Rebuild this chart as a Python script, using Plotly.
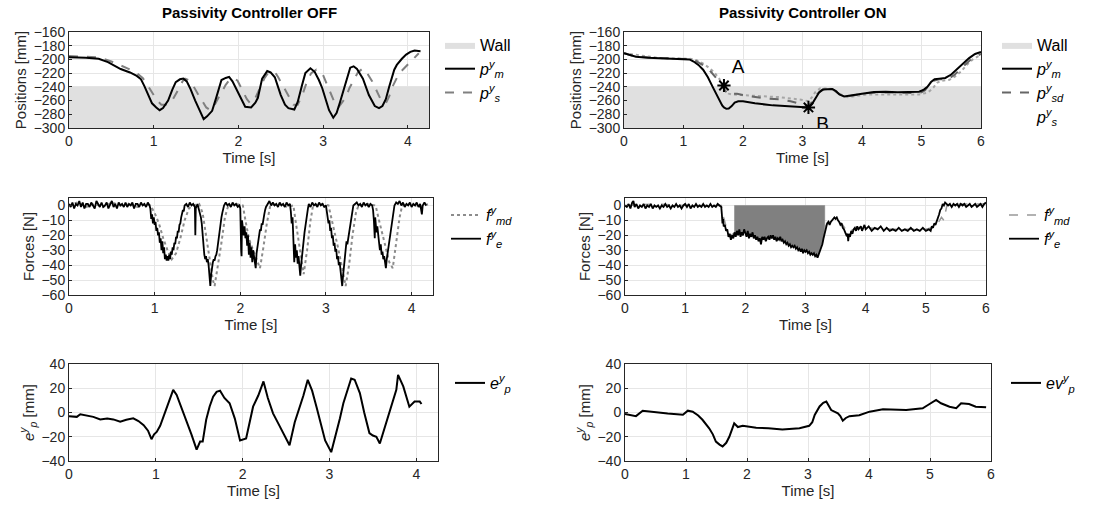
import plotly.graph_objects as go

# ---------------- DATA ----------------
# Top-left: positions, controller OFF
t_pm_off = [0, 0.2, 0.35, 0.46, 0.61, 0.72, 0.80, 0.85, 0.89, 0.94, 0.98, 1.03, 1.07, 1.11, 1.17, 1.22, 1.26, 1.31, 1.35, 1.39, 1.43, 1.49, 1.54, 1.59, 1.63, 1.69, 1.74, 1.80, 1.85, 1.89, 1.93, 1.97, 2.03, 2.08, 2.15, 2.20, 2.23, 2.28, 2.34, 2.38, 2.43, 2.50, 2.55, 2.59, 2.66, 2.70, 2.75, 2.79, 2.85, 2.90, 2.95, 2.99, 3.04, 3.07, 3.12, 3.16, 3.20, 3.25, 3.29, 3.32, 3.36, 3.40, 3.47, 3.54, 3.61, 3.66, 3.70, 3.74, 3.78, 3.81, 3.84, 3.87, 3.90, 3.93, 3.98, 4.03, 4.08, 4.15]
pm_off = [-197, -197.5, -199, -204, -214, -219, -224, -229, -239, -253, -264, -270, -274, -271, -260, -244, -233, -229, -228, -232, -242, -260, -274, -287, -283, -275, -255, -230, -227, -225.5, -232, -242, -258, -269, -270, -263, -256, -228, -217, -219, -226, -252, -266, -271, -273, -262, -238, -220, -213, -218, -230, -242, -262, -274, -285, -278, -262, -242, -224, -212, -210, -214, -228, -252, -268, -271, -268, -258, -240, -226, -215, -208, -203, -199, -193, -189, -187, -188]
t_ps_off = [0, 0.2, 0.35, 0.5, 0.69, 0.8, 0.87, 0.93, 0.98, 1.04, 1.09, 1.14, 1.2, 1.25, 1.3, 1.34, 1.37, 1.41, 1.46, 1.52, 1.57, 1.62, 1.67, 1.72, 1.76, 1.81, 1.85, 1.9, 1.95, 1.99, 2.03, 2.06, 2.10, 2.14, 2.19, 2.26, 2.31, 2.35, 2.43, 2.47, 2.52, 2.58, 2.65, 2.70, 2.76, 2.81, 2.86, 2.92, 2.99, 3.04, 3.10, 3.14, 3.18, 3.22, 3.27, 3.31, 3.36, 3.41, 3.47, 3.52, 3.58, 3.64, 3.69, 3.74, 3.78, 3.81, 3.85, 3.89, 3.94, 4.0, 4.06, 4.13]
ps_off = [-195, -196, -197, -203, -213, -220, -227, -238, -249, -260, -266, -266, -264, -254, -242, -232, -228, -230, -237, -250, -261, -270, -274, -266, -257, -245, -237, -229, -228, -231, -240, -249, -258, -264, -259, -240, -227, -220, -218, -226, -237, -252, -266, -266, -250, -232, -220, -215, -220, -235, -254, -264, -270, -264, -255, -242, -230, -219, -213, -220, -232, -248, -261, -264, -254, -242, -231, -222, -215, -207, -199, -191]

# Top-right: positions, controller ON
t_pm_on = [0, 0.2, 0.4, 0.6, 0.8, 1.0, 1.1, 1.17, 1.25, 1.33, 1.41, 1.49, 1.55, 1.6, 1.65, 1.68, 1.72, 1.76, 1.81, 1.86, 1.92, 2.0, 2.2, 2.5, 2.8, 3.0, 3.1, 3.16, 3.22, 3.28, 3.34, 3.42, 3.5, 3.56, 3.62, 3.7, 3.8, 4.0, 4.2, 4.4, 4.6, 4.8, 4.96, 5.04, 5.1, 5.16, 5.22, 5.3, 5.4, 5.5, 5.6, 5.7, 5.8, 5.9, 6.0]
pm_on = [-191, -196, -197.5, -198, -198.5, -199, -200, -203, -208, -215, -226, -240, -251, -259, -267, -270, -272, -271.5, -268, -263, -261, -261, -264, -267, -269, -270, -270, -265, -256, -248, -244, -243, -243, -246, -251, -254, -253, -250, -247.5, -247, -248, -248, -247, -244, -240, -233, -229, -228, -227, -222, -214, -205, -198, -192, -189]
t_psd_on = [0, 0.2, 0.6, 1.0, 1.1, 1.2, 1.3, 1.38, 1.46, 1.54, 1.62, 1.68, 1.73, 1.78, 1.84, 1.9, 2.07, 2.39, 2.6, 2.8, 3.0, 3.1, 3.16, 3.22, 3.3, 3.38, 3.5, 3.58, 3.66, 3.74, 3.9, 4.1, 4.4, 4.8, 5.0, 5.06, 5.12, 5.2, 5.3, 5.44, 5.56, 5.7, 5.84, 6.0]
psd_on = [-191, -196, -198, -199, -199.5, -202, -207, -211, -218, -226, -236, -243, -249, -252, -250, -250, -253, -257, -258, -261, -265, -268, -262, -253, -246, -243, -243, -248, -253, -254, -252, -249, -248, -249, -248, -245, -238, -231, -229, -229, -222, -210, -199, -192]
t_ps_on = [0, 0.6, 1.0, 1.1, 1.22, 1.33, 1.44, 1.52, 1.6, 1.66, 1.7, 1.76, 1.81, 1.97, 2.23, 2.61, 3.0, 3.1, 3.16, 3.22, 3.3, 3.4, 3.5, 3.58, 3.66, 3.76, 3.9, 4.1, 4.5, 4.96, 5.08, 5.14, 5.2, 5.26, 5.34, 5.46, 5.56, 5.66, 5.76, 5.86, 6.0]
ps_on = [-191, -198, -199, -199, -201, -206, -213, -219, -228, -238, -245, -250, -251, -252, -253, -255, -259, -261, -255, -247, -242, -242, -243, -247, -252, -255, -253, -251, -251, -251, -249, -246, -241, -234, -231, -230, -225, -218, -208, -200, -193]
event_t = [1.68, 3.10]
event_pos = [-238, -270]
event_labels = ["A", "B"]
wall_top = -240
wall_bottom = -300

# Middle-left: forces, controller OFF
t_fe_off = [0.00, 0.02, 0.04, 0.06, 0.08, 0.10, 0.12, 0.14, 0.16, 0.18, 0.20, 0.22, 0.24, 0.26, 0.28, 0.30, 0.32, 0.34, 0.36, 0.38, 0.40, 0.42, 0.44, 0.46, 0.48, 0.50, 0.52, 0.54, 0.56, 0.58, 0.60, 0.62, 0.64, 0.66, 0.68, 0.70, 0.72, 0.74, 0.76, 0.78, 0.80, 0.82, 0.84, 0.86, 0.88, 0.90, 0.92, 0.94,
            0.95, 0.96, 0.97, 0.98, 0.99, 1.00, 1.01, 1.02, 1.03, 1.04, 1.05, 1.06, 1.07, 1.08, 1.09, 1.10, 1.11, 1.12, 1.13, 1.14, 1.15, 1.16, 1.17, 1.18, 1.19, 1.20, 1.21, 1.22, 1.23, 1.24, 1.25, 1.26, 1.27, 1.28, 1.29, 1.30, 1.31, 1.32, 1.33, 1.34, 1.35, 1.37, 1.39, 1.41, 1.43, 1.45, 1.47, 1.475, 1.48, 1.50,
            1.52, 1.54, 1.55, 1.56, 1.57, 1.58, 1.59, 1.60, 1.61, 1.62, 1.63, 1.64, 1.65, 1.66, 1.67, 1.68, 1.69, 1.70, 1.71, 1.72, 1.73, 1.74, 1.75, 1.76, 1.77, 1.78, 1.79, 1.80, 1.81, 1.83, 1.85, 1.87, 1.89, 1.91, 1.93, 1.95, 1.97, 1.99,
            2.00, 2.01, 2.015, 2.02, 2.03, 2.04, 2.05, 2.06, 2.07, 2.08, 2.09, 2.10, 2.11, 2.12, 2.13, 2.14, 2.15, 2.16, 2.17, 2.18, 2.19, 2.20, 2.21, 2.22, 2.23, 2.24, 2.25, 2.26, 2.27, 2.28, 2.29, 2.30, 2.32, 2.34, 2.36, 2.38, 2.40, 2.42, 2.44, 2.46, 2.48, 2.50, 2.52, 2.54, 2.56, 2.58,
            2.59, 2.60, 2.61, 2.62, 2.63, 2.64, 2.65, 2.66, 2.67, 2.68, 2.69, 2.70, 2.71, 2.72, 2.73, 2.74, 2.75, 2.76, 2.77, 2.78, 2.79, 2.80, 2.82, 2.84, 2.86, 2.88, 2.90, 2.92, 2.94, 2.96, 2.98, 3.00,
            3.01, 3.02, 3.03, 3.04, 3.05, 3.06, 3.07, 3.08, 3.09, 3.10, 3.11, 3.12, 3.13, 3.14, 3.15, 3.16, 3.17, 3.18, 3.19, 3.20, 3.21, 3.22, 3.23, 3.24, 3.25, 3.26, 3.27, 3.28, 3.29, 3.30, 3.31, 3.32, 3.34, 3.36, 3.38, 3.40, 3.42, 3.44, 3.46, 3.48, 3.50, 3.52, 3.54,
            3.55, 3.56, 3.57, 3.575, 3.58, 3.59, 3.60, 3.61, 3.62, 3.63, 3.64, 3.65, 3.66, 3.67, 3.68, 3.69, 3.70, 3.71, 3.72, 3.73, 3.74, 3.75, 3.76, 3.77, 3.78, 3.79, 3.80, 3.82, 3.84, 3.86, 3.88, 3.90, 3.92, 3.94, 3.96, 3.98, 4.00, 4.02, 4.04, 4.06, 4.08, 4.10, 4.12, 4.13, 4.15, 4.17]
fe_off = [1, -1, 2, -2, 1, 0, 3, -1, 2, -2, 1, 1, -1, 2, 0, -2, 3, 1, -1, 2, -1, 0, 2, -2, 1, 3, -1, 1, -2, 2, 0, 1, -1, 2, -1, 1, 0, 2, -2, 1, 1, -1, 2, 0, 1, -1, 2, 0,
          -2, -9, -6, -12, -8, -13, -11, -17, -15, -20, -18, -25, -22, -30, -24, -32, -28, -36, -33, -37, -34, -37, -33, -36, -31, -33, -28, -30, -25, -26, -21, -22, -17, -18, -13, -12, -8, -6, -3, -4, 0, 1, -1, 2, 0, 1, -1, -20, -2, 1,
          -3, -8, -12, -20, -28, -33, -36, -34, -38, -36, -40, -47, -54, -46, -40, -38, -36, -37, -34, -33, -30, -25, -20, -16, -12, -8, -5, -3, 0, 2, 0, 1, -1, 2, 0, 1, -1, 0,
          -2, -30, -34, -10, -15, -20, -14, -22, -18, -27, -20, -33, -25, -35, -28, -38, -30, -34, -40, -42, -32, -28, -24, -20, -16, -17, -12, -13, -8, -6, -3, -1, 1, 3, 0, 2, 0, 1, -1, 2, 0, 1, -1, 2, 0, 1,
          -4, -12, -8, -20, -38, -26, -35, -30, -39, -34, -42, -47, -40, -33, -28, -23, -18, -14, -9, -5, -2, 1, -1, 2, 0, 1, -1, 2, 0, 1, -1, 0,
          -4, -8, -12, -10, -17, -15, -22, -20, -27, -25, -31, -29, -36, -34, -40, -38, -45, -50, -54, -47, -40, -35, -30, -24, -26, -22, -18, -14, -10, -6, -3, 0, 1, 2, 0, 1, -1, 2, 0, 1, -1, 1, 0,
          -3, -10, -22, -8, -12, -18, -14, -20, -24, -30, -26, -33, -31, -36, -34, -38, -42, -36, -32, -28, -22, -18, -14, -10, -6, -3, 0, 2, 1, 3, 0, 2, -1, 1, 0, 2, -1, 1, 0, 2, -1, 1, -6, 0, 2, 0]
t_fmd_off = [0, 0.1, 0.2, 0.3, 0.4, 0.5, 0.6, 0.7, 0.8, 0.9, 0.95, 1.00, 1.05, 1.10, 1.15, 1.20, 1.25, 1.30, 1.35, 1.40, 1.45, 1.52, 1.56, 1.60, 1.64, 1.68, 1.70, 1.74, 1.78, 1.82, 1.86, 1.95, 2.03, 2.06, 2.10, 2.15, 2.20, 2.23, 2.27, 2.31, 2.35, 2.45, 2.55, 2.62, 2.65, 2.70, 2.74, 2.78, 2.82, 2.85, 2.95, 3.03, 3.08, 3.14, 3.20, 3.23, 3.27, 3.31, 3.35, 3.38, 3.48, 3.58, 3.62, 3.68, 3.74, 3.78, 3.82, 3.86, 3.89, 4.0, 4.1, 4.2]
fmd_off = [0, 2, -1, 1, -1, 2, 0, 1, -1, 1, 0, -5, -12, -22, -30, -36, -32, -22, -10, -2, 0, 1, -5, -20, -34, -50, -54, -40, -25, -8, 0, 1, 0, -10, -22, -30, -38, -42, -28, -12, 0, 1, -1, 0, -12, -30, -46, -30, -10, 0, 1, 0, -12, -28, -45, -54, -40, -20, -5, 0, 1, 0, -10, -25, -38, -42, -25, -8, 0, 1, -1, 1]

# Middle-right: forces, controller ON
t_fe_on = [0.00, 0.03, 0.06, 0.09, 0.12, 0.14, 0.16, 0.19, 0.22, 0.25, 0.28, 0.31, 0.34, 0.37, 0.40, 0.43, 0.46, 0.49, 0.52, 0.55, 0.58, 0.61, 0.64, 0.67, 0.70, 0.73, 0.76, 0.79, 0.82, 0.85, 0.88, 0.91, 0.94, 0.97, 1.00, 1.03, 1.06, 1.09, 1.12, 1.15, 1.18, 1.21, 1.24, 1.27, 1.30, 1.33, 1.36, 1.39, 1.42, 1.45, 1.48, 1.51, 1.54, 1.57, 1.60,
           1.61, 1.62, 1.63, 1.64, 1.66, 1.68, 1.70, 1.72, 1.74, 1.76, 1.78, 1.80, 1.82, 1.84, 1.86, 1.88, 1.90, 1.92, 1.94, 1.96, 1.98, 2.00, 2.02, 2.04, 2.06, 2.08, 2.10, 2.12, 2.14, 2.16, 2.18, 2.20, 2.22, 2.24, 2.26, 2.28, 2.30, 2.32, 2.34, 2.36, 2.38, 2.40, 2.42, 2.44, 2.46, 2.48, 2.50, 2.52, 2.54, 2.56, 2.58, 2.60, 2.62, 2.64, 2.66, 2.68, 2.70, 2.72, 2.74, 2.76, 2.78, 2.80, 2.82, 2.84, 2.86, 2.88, 2.90, 2.92, 2.94, 2.96, 2.98, 3.00, 3.02, 3.04, 3.06, 3.08, 3.10, 3.12, 3.14, 3.16, 3.18, 3.20, 3.22, 3.24, 3.26, 3.28, 3.30, 3.32, 3.34,
           3.36, 3.38, 3.40, 3.42, 3.44, 3.46, 3.48, 3.50, 3.52, 3.54, 3.56, 3.58, 3.60, 3.62, 3.64, 3.66, 3.68, 3.70, 3.71, 3.72, 3.74, 3.76, 3.78, 3.80, 3.82, 3.84, 3.86, 3.88, 3.90, 3.92, 3.94, 3.96, 3.98, 4.00, 4.05, 4.10, 4.15, 4.20, 4.25, 4.30, 4.35, 4.40, 4.45, 4.50, 4.55, 4.60, 4.65, 4.70, 4.75, 4.80, 4.85, 4.90, 4.95, 5.00, 5.05, 5.08, 5.10, 5.12, 5.14, 5.16, 5.18, 5.20, 5.22, 5.24, 5.26, 5.28, 5.30, 5.32, 5.34, 5.37, 5.40, 5.43, 5.46, 5.49, 5.52, 5.55, 5.58, 5.61, 5.64, 5.67, 5.70, 5.73, 5.76, 5.79, 5.82, 5.85, 5.88, 5.91, 5.94, 5.97, 6.00]
fe_on = [0, -1, 1, -2, 2, 3, -1, 1, -2, 0, -1, 1, -2, 0, -1, 1, -2, 0, -1, 0, -2, 0, -1, 1, -1, 0, -2, 0, -1, 1, -1, 0, -2, 0, 1, -1, 1, -2, 0, -1, 1, -1, 0, -1, 1, -1, 0, -1, 1, -1, 0, -1, 1, 0, -1,
         -6, -12, -9, -14, -13, -17, -16, -21, -19, -23, -20, -22, -18, -21, -17, -20, -16, -21, -18, -20, -16, -19, -21, -17, -22, -19, -21, -18, -22, -20, -23, -21, -24, -22, -26, -21, -23, -21, -24, -22, -21, -23, -20, -22, -20, -23, -21, -24, -22, -23, -21, -24, -23, -25, -24, -26, -25, -27, -26, -28, -27, -28, -27, -29, -28, -30, -29, -31, -29, -32, -30, -31, -30, -32, -31, -33, -32, -33, -32, -34, -33, -35, -33, -30, -28, -26, -22, -18, -14,
         -12, -11, -13, -11, -10, -9, -8, -9, -8, -10, -11, -13, -12, -15, -16, -18, -20, -19, -24, -19, -21, -17, -19, -16, -15, -17, -14, -16, -15, -14, -17, -15, -13, -16, -14, -17, -15, -16, -14, -17, -15, -17, -16, -17, -15, -17, -16, -17, -15, -17, -16, -17, -15, -17, -16, -17, -14, -15, -12, -13, -11, -8, -6, -3, -2, 1, 0, 2, 1, 0, 1, -1, 1, 0, 1, -1, 1, 0, 1, -1, 0, 1, -1, 0, 1, -1, 0, 1, -1, 1, 2]
t_fmd_on = [0, 0.5, 1.0, 1.6, 1.64, 1.68, 1.72, 1.76, 1.80, 1.82, None, 3.32, 3.36, 3.40, 3.50, 3.60, 3.70, 3.80, 4.00, 4.50, 5.00, 5.10, 5.20, 5.26, 5.30, 5.35, 5.50, 6.00]
fmd_on = [0, 1, 0, 0, -8, -14, -18, -20, -19, -20, None, -15, -12, -11, -10, -12, -18, -16, -15, -16, -16, -15, -12, -8, -10, 0, 1, 1]
fmd_on_burst = [1.82, 3.32]   # interval where f_md oscillates between 0 and f_e (solid grey band)

# Bottom-left: position error, controller OFF
t_ep_off = [0, 0.09, 0.13, 0.2, 0.28, 0.36, 0.44, 0.51, 0.59, 0.66, 0.74, 0.80, 0.86, 0.91, 0.95, 0.98, 1.01, 1.05, 1.09, 1.15, 1.2, 1.24, 1.29, 1.35, 1.41, 1.47, 1.51, 1.54, 1.58, 1.62, 1.66, 1.70, 1.74, 1.79, 1.85, 1.91, 1.97, 2.04, 2.08, 2.12, 2.18, 2.24, 2.29, 2.35, 2.41, 2.47, 2.54, 2.60, 2.66, 2.70, 2.75, 2.80, 2.85, 2.90, 2.95, 3.02, 3.08, 3.12, 3.16, 3.20, 3.25, 3.29, 3.35, 3.40, 3.46, 3.50, 3.54, 3.58, 3.62, 3.67, 3.72, 3.77, 3.79, 3.82, 3.85, 3.92, 3.98, 4.01, 4.04, 4.06]
ep_off = [-3, -3.6, -1.4, -2.5, -3.6, -5.7, -5, -5.7, -7.6, -6, -4.8, -7, -10.4, -15, -22, -18, -16, -11, -3.5, 8, 18.7, 14.5, 5, -6, -18, -30.6, -24, -24, -6, 5, 13, 17, 18, 12, 7.6, -5, -23, -21.5, -8, 4.8, 14, 25.6, 12, -0.7, -9, -17.3, -27, -8, 4.8, 14, 27, 18, 4.8, -10, -23, -32.7, -17.3, -5, 7.6, 16, 28, 27, 16, 0, -17, -19, -20, -25.6, -16, -6, 8, 18.7, 31, 26, 21.5, 4.8, 9, 9, 9, 7]

# Bottom-right: position error, controller ON
t_ep_on = [0, 0.08, 0.18, 0.29, 0.4, 0.51, 0.7, 0.95, 1.03, 1.11, 1.2, 1.27, 1.38, 1.44, 1.49, 1.55, 1.6, 1.66, 1.71, 1.79, 1.85, 1.93, 2.05, 2.15, 2.35, 2.58, 2.86, 3.02, 3.07, 3.11, 3.19, 3.25, 3.3, 3.34, 3.38, 3.49, 3.53, 3.57, 3.62, 3.68, 3.84, 4.01, 4.23, 4.61, 4.88, 4.96, 5.03, 5.1, 5.18, 5.32, 5.43, 5.51, 5.64, 5.75, 5.92]
ep_on = [-1.2, -2, -3, 1.5, 0.8, 0, -0.8, -1.8, 1.5, 0.7, -2.5, -6, -13, -18, -24, -26.5, -28, -25, -20, -9, -12, -11, -12, -12.6, -13, -14, -13, -11, -8, -2, 5, 8, 9, 5, 2, -0.7, -3, -6.8, -4.5, -3, -2.3, 0.7, 2.6, 2, 3.5, 6, 8, 10.4, 7.6, 4.8, 3.5, 7.6, 7, 4.8, 4.3]

# Axis tick values
pos_ticks = [-160, -180, -200, -220, -240, -260, -280, -300]
force_ticks = [0, -10, -20, -30, -40, -50, -60]
err_ticks = [40, 20, 0, -20, -40]

# ---------------- FIGURE ----------------
W, H = 1112, 509
FONT = "Liberation Sans, Arial, Helvetica, sans-serif"
AXC = "#262626"

def px(xp):
    return xp / W

def py(yp):
    return 1 - yp / H

fig = go.Figure()

axes = {
    1: ((69, 429), (32, 128), 4.25),
    2: ((624, 981), (32, 128), 6),
    3: ((69, 433), (198, 295), 4.25),
    4: ((625, 986), (198, 295), 6),
    5: ((69, 438), (364, 461), 4.25),
    6: ((625, 991), (364, 461), 6),
}
ytitle = {1: "Positions [mm]", 2: "Positions [mm]", 3: "Forces [N]", 4: "Forces [N]",
          5: "<i>e<sup>y</sup><sub>p</sub></i> [mm]", 6: "<i>e<sup>y</sup><sub>p</sub></i> [mm]"}
yrng = {1: [-300, -160], 2: [-300, -160], 3: [-60, 5], 4: [-60, 5], 5: [-40, 40], 6: [-40, 40]}
ytv = {1: pos_ticks, 2: pos_ticks, 3: force_ticks, 4: force_ticks, 5: err_ticks, 6: err_ticks}

common = dict(showline=True, mirror=True, linecolor=AXC, linewidth=1, ticks="inside", ticklen=3,
              tickcolor=AXC, showgrid=True, gridcolor="#e6e6e6", gridwidth=1, zeroline=False,
              automargin=False, tickfont=dict(family=FONT, size=14, color=AXC))
for i, (xd, yd, xmax) in axes.items():
    sfx = "" if i == 1 else str(i)
    fig.layout["xaxis" + sfx] = dict(common, domain=[px(xd[0]), px(xd[1])], range=[0, xmax], dtick=1,
                                     tick0=0, anchor="y" + sfx,
                                     title=dict(text="Time [s]", standoff=4,
                                                font=dict(family=FONT, size=15, color=AXC)))
    fig.layout["yaxis" + sfx] = dict(common, domain=[py(yd[1]), py(yd[0])], range=yrng[i],
                                     tickvals=ytv[i], anchor="x" + sfx,
                                     title=dict(text=ytitle[i], standoff=3,
                                                font=dict(family=FONT, size=15, color=AXC)))

leg_font = dict(family=FONT, size=16, color="#000")

def sub(i):
    s = "" if i == 1 else str(i)
    return dict(xaxis="x" + s, yaxis="y" + s)

# --- Top-left ---
fig.add_trace(go.Scatter(x=[0, 4.25, 4.25, 0, 0], y=[wall_top, wall_top, wall_bottom, wall_bottom, wall_top],
                         fill="toself", fillcolor="#e0e0e0", line=dict(width=0), mode="lines",
                         name="Wall", legend="legend", legendrank=1, hoverinfo="skip", **sub(1)))
fig.add_trace(go.Scatter(x=t_ps_off, y=ps_off, mode="lines", line=dict(color="#808080", width=2, dash="dash"),
                         name="<i>p<sup>y</sup><sub>s</sub></i>", legend="legend", legendrank=3, **sub(1)))
fig.add_trace(go.Scatter(x=t_pm_off, y=pm_off, mode="lines", line=dict(color="#000", width=2),
                         name="<i>p<sup>y</sup><sub>m</sub></i>", legend="legend", legendrank=2, **sub(1)))

# --- Top-right ---
fig.add_trace(go.Scatter(x=[0, 6, 6, 0, 0], y=[wall_top, wall_top, wall_bottom, wall_bottom, wall_top],
                         fill="toself", fillcolor="#e0e0e0", line=dict(width=0), mode="lines",
                         name="Wall", legend="legend2", legendrank=1, hoverinfo="skip", **sub(2)))
fig.add_trace(go.Scatter(x=t_ps_on, y=ps_on, mode="lines", line=dict(color="#a6a6a6", width=2, dash="dot"),
                         showlegend=False, **sub(2)))
fig.add_trace(go.Scatter(x=t_psd_on, y=psd_on, mode="lines", line=dict(color="#666666", width=2, dash="dash"),
                         name="<i>p<sup>y</sup><sub>sd</sub></i>", legend="legend2", legendrank=3, **sub(2)))
fig.add_trace(go.Scatter(x=t_pm_on, y=pm_on, mode="lines", line=dict(color="#000", width=2),
                         name="<i>p<sup>y</sup><sub>m</sub></i>", legend="legend2", legendrank=2, **sub(2)))
fig.add_trace(go.Scatter(x=[None], y=[None], mode="lines", line=dict(color="rgba(0,0,0,0)", width=2),
                         name="<i>p<sup>y</sup><sub>s</sub></i>", legend="legend2", legendrank=4, **sub(2)))
fig.add_trace(go.Scatter(x=event_t, y=event_pos, mode="markers+text", text=event_labels,
                         textposition=["top right", "bottom right"],
                         textfont=dict(family=FONT, size=19, color="#000"),
                         marker=dict(symbol="asterisk-open", size=11, line=dict(width=2, color="#000"), color="#000"),
                         showlegend=False, **sub(2)))

# --- Middle-left ---
fig.add_trace(go.Scatter(x=t_fmd_off, y=fmd_off, mode="lines", line=dict(color="#8c8c8c", width=2, dash="dot"),
                         name="<i>f<sup>y</sup><sub>md</sub></i>", legend="legend3", legendrank=1, **sub(3)))
fig.add_trace(go.Scatter(x=t_fe_off, y=fe_off, mode="lines", line=dict(color="#000", width=1.8),
                         name="<i>f<sup>y</sup><sub>e</sub></i>", legend="legend3", legendrank=2, **sub(3)))

# --- Middle-right ---
burst_t = [t for t in t_fe_on if fmd_on_burst[0] <= t <= fmd_on_burst[1]]
burst_v = [v for t, v in zip(t_fe_on, fe_on) if fmd_on_burst[0] <= t <= fmd_on_burst[1]]
fig.add_trace(go.Scatter(x=burst_t + [fmd_on_burst[1], fmd_on_burst[0], burst_t[0]],
                         y=burst_v + [0, 0, burst_v[0]], fill="toself", fillcolor="#808080",
                         line=dict(width=0.5, color="#808080"), mode="lines", showlegend=False,
                         hoverinfo="skip", **sub(4)))
fig.add_trace(go.Scatter(x=t_fmd_on, y=fmd_on, mode="lines", line=dict(color="#999999", width=1.5, dash="dash"),
                         name="<i>f<sup>y</sup><sub>md</sub></i>", legend="legend4", legendrank=1, **sub(4)))
fig.add_trace(go.Scatter(x=t_fe_on, y=fe_on, mode="lines", line=dict(color="#000", width=1.8),
                         name="<i>f<sup>y</sup><sub>e</sub></i>", legend="legend4", legendrank=2, **sub(4)))

# --- Bottom ---
fig.add_trace(go.Scatter(x=t_ep_off, y=ep_off, mode="lines", line=dict(color="#000", width=2),
                         name="<i>e<sup>y</sup><sub>p</sub></i>", legend="legend5", **sub(5)))
fig.add_trace(go.Scatter(x=t_ep_on, y=ep_on, mode="lines", line=dict(color="#000", width=2),
                         name="<i>ev<sup>y</sup><sub>p</sub></i>", legend="legend6", **sub(6)))

def leg(xp, yp, gap=4):
    return dict(x=px(xp), y=py(yp), xanchor="left", yanchor="top", bgcolor="rgba(0,0,0,0)",
                font=leg_font, tracegroupgap=gap, traceorder="normal", itemwidth=30)

fig.update_layout(
    width=W, height=H, autosize=False,
    margin=dict(l=0, r=0, t=0, b=0),
    paper_bgcolor="white", plot_bgcolor="white",
    showlegend=True,
    legend=leg(440, 28), legend2=leg(997, 28),
    legend3=leg(446, 198), legend4=leg(1004, 198),
    legend5=leg(450, 366), legend6=leg(1006, 366),
    annotations=[
        dict(text="<b>Passivity Controller OFF</b>", x=px(249), y=py(12), xref="paper", yref="paper",
             xanchor="center", yanchor="middle", showarrow=False,
             font=dict(family=FONT, size=15, color="#000")),
        dict(text="<b>Passivity Controller ON</b>", x=px(803), y=py(12), xref="paper", yref="paper",
             xanchor="center", yanchor="middle", showarrow=False,
             font=dict(family=FONT, size=15, color="#000")),
    ],
)

# remove the browser's default page margin so the figure sits at the window origin
fig.write_html("out.html", config={"displayModeBar": False},
               post_script="document.body.style.margin='0';document.body.style.overflow='hidden';")
